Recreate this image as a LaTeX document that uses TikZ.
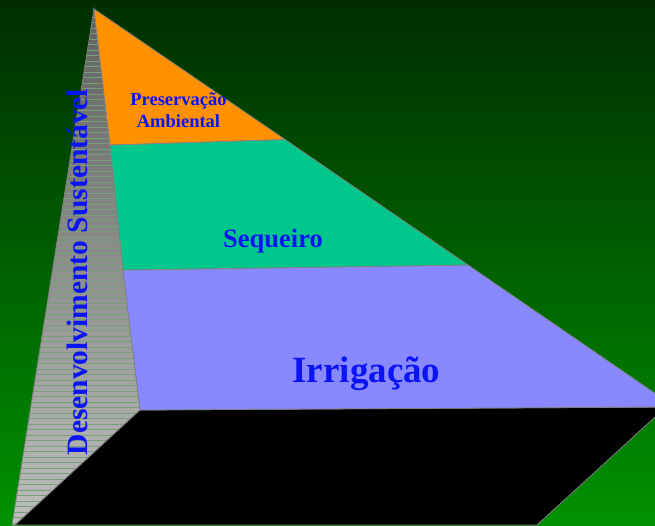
\documentclass[tikz,border=0pt]{standalone}
\usepackage{fontspec}
\setmainfont{Liberation Serif}
\definecolor{bgtop}{RGB}{0,45,0}
\definecolor{bgbottom}{RGB}{0,145,0}
\definecolor{sidetop}{RGB}{95,95,95}
\definecolor{sidebottom}{RGB}{190,190,190}
\definecolor{stripe}{RGB}{120,160,120}
\definecolor{orangeband}{RGB}{255,145,0}
\definecolor{greenband}{RGB}{0,200,140}
\definecolor{blueband}{RGB}{136,136,255}
\definecolor{textblue}{RGB}{10,20,245}
\tikzset{
  edge/.style={draw=gray,line width=.8pt},
  bandtext/.style={text=textblue,inner sep=0pt,font=\bfseries}
}

\begin{document}
\begin{tikzpicture}[x=1pt,y=1pt]
    \useasboundingbox (0,0) rectangle (655,525);
    % Draw the background
    \shade[top color=bgtop,bottom color=bgbottom] (0,0) rectangle (655,525);
    \clip (0,0) rectangle (655,525);
    % Corners of the pyramid
    \coordinate (apex) at (94,516);
    \coordinate (sidefoot) at (12,0);
    \coordinate (front) at (140,115);
    \coordinate (basel) at (15,0);
    \coordinate (baser) at (537,0);
    \coordinate (o1) at (110,380);
    \coordinate (o2) at (285,385.5);
    \coordinate (g1) at (123,255);
    \coordinate (g2) at (468,260);
    % Draw the side face with its stripes
    \shade[top color=sidetop,bottom color=sidebottom] (apex) -- (front) -- (basel) -- (sidefoot) -- cycle;
    \begin{scope}
      \clip (apex) -- (front) -- (basel) -- (sidefoot) -- cycle;
      \foreach \y in {2,7.5,...,516}{
        \draw[stripe,line width=.5pt] (0,\y) -- (160,\y);
      }
    \end{scope}
    \draw[edge] (apex) -- (front) -- (basel) -- (sidefoot) -- cycle;
    % Draw the base
    \filldraw[edge,fill=black] (front) -- (666,118) -- (baser) -- (basel) -- cycle;
    % Draw the bands of the front face
    \filldraw[edge,fill=blueband] (front) -- (g1) -- (g2) -- (675,118) -- cycle;
    \filldraw[edge,fill=greenband] (g1) -- (o1) -- (o2) -- (g2) -- cycle;
    \filldraw[edge,fill=orangeband] (apex) -- (o1) -- (o2) -- cycle;
    % Label the bands
    \node[bandtext,align=center,font=\bfseries\fontsize{18.5}{22}\selectfont] (preserv) at (178.5,415) {Preservação\\Ambiental};
    \node[bandtext,anchor=base,font=\bfseries\fontsize{26.5}{30}\selectfont] (sequeiro) at (273,277) {Sequeiro};
    \node[bandtext,anchor=base,font=\bfseries\fontsize{37}{40}\selectfont] (irrig) at (366.5,143) {Irrigação};
    \node[bandtext,anchor=base,rotate=90,font=\bfseries\fontsize{29.5}{32}\selectfont] (desenv) at (87.5,253) {Desenvolvimento Sustentável};
\end{tikzpicture}
\end{document}
